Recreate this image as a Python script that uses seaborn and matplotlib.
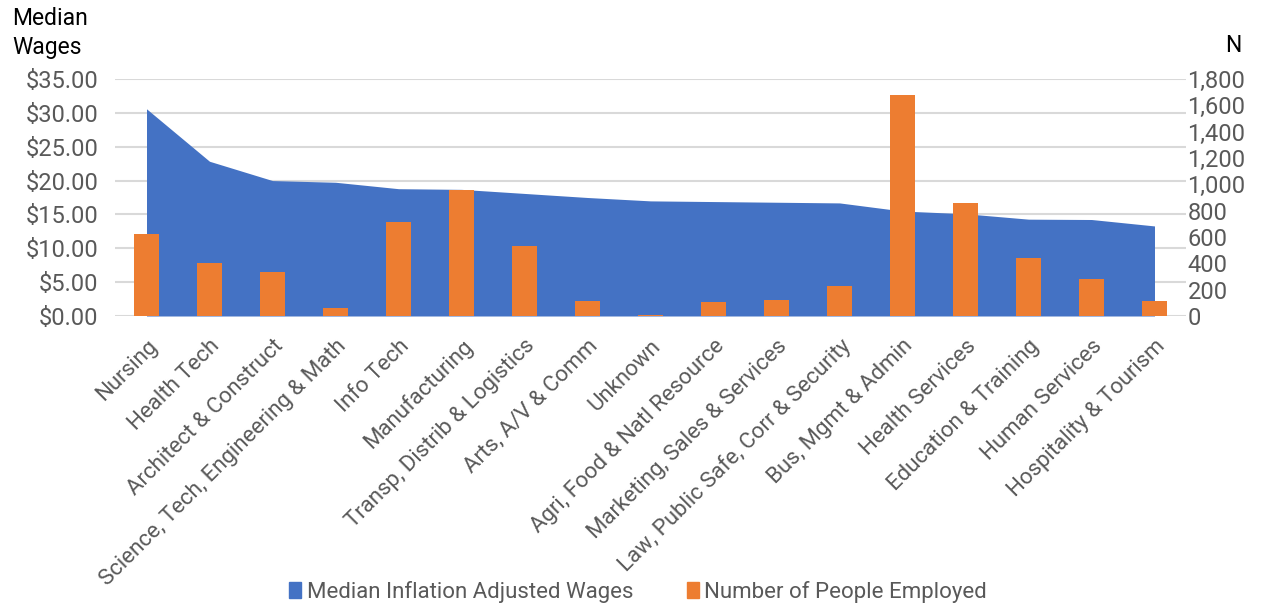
import numpy as np
import pandas as pd
import matplotlib
matplotlib.use("Agg")
import matplotlib.pyplot as plt
import seaborn as sns
from matplotlib.patches import Patch
from matplotlib.ticker import FuncFormatter

categories = ["Nursing", "Health Tech", "Architect & Construct",
              "Science, Tech, Engineering & Math", "Info Tech", "Manufacturing",
              "Transp, Distrib & Logistics", "Arts, A/V & Comm", "Unknown",
              "Agri, Food & Natl Resource", "Marketing, Sales & Services",
              "Law, Public Safe, Corr & Security", "Bus, Mgmt & Admin",
              "Health Services", "Education & Training", "Human Services",
              "Hospitality & Tourism"]
median_wages = [30.6, 22.85, 20.0, 19.75, 18.8, 18.7, 18.1, 17.5, 17.0,
                16.9, 16.8, 16.7, 15.5, 15.1, 14.3, 14.25, 13.3]
people_employed = [620, 405, 335, 57, 715, 955, 533, 115, 6,
                   110, 120, 230, 1680, 855, 440, 282, 114]
left_ticks = [0, 5, 10, 15, 20, 25, 30, 35]
right_ticks = [0, 200, 400, 600, 800, 1000, 1200, 1400, 1600, 1800]

BLUE = "#4472C4"
ORANGE = "#ED7D31"
GRAY = "#595959"

sns.set_style("white")
plt.rcParams["font.family"] = ["Roboto", "DejaVu Sans"]

df = pd.DataFrame({"category": categories, "wages": median_wages,
                   "employed": people_employed})

fig = plt.figure(figsize=(12.78, 6.05), dpi=100)
ax1 = fig.add_axes([115 / 1278, 1 - 316 / 605, (1186 - 115) / 1278, (316 - 79) / 605])
ax2 = ax1.twinx()

x = np.arange(len(categories))
ax1.fill_between(x, df["wages"], 0, color=BLUE, linewidth=0, zorder=2)
ax1.set_ylim(0, 35)
ax1.set_yticks(left_ticks)
ax1.yaxis.set_major_formatter(FuncFormatter(lambda v, p: f"${v:.2f}"))
ax1.grid(axis="y", color="#D9D9D9", linewidth=1.5, zorder=0)
ax1.set_axisbelow(True)

sns.barplot(data=df, x="category", y="employed", color=ORANGE, width=0.4,
            saturation=1, linewidth=0, edgecolor=ORANGE, ax=ax2, zorder=3)
ax2.set_ylim(0, 1800)
ax2.set_yticks(right_ticks)
ax2.yaxis.set_major_formatter(FuncFormatter(lambda v, p: f"{int(v):,}"))
ax2.set_xlabel("")
ax2.set_ylabel("")
ax1.set_xlim(-0.5, len(categories) - 0.5)

ax1.set_xticks(x)
ax1.set_xticklabels(categories, rotation=45, ha="right", rotation_mode="anchor",
                    fontsize=16, color=GRAY)
ax1.tick_params(axis="x", length=0, pad=14)
ax1.tick_params(axis="y", length=0, labelsize=17, labelcolor=GRAY, pad=12)
ax2.tick_params(axis="y", length=0, labelsize=17, labelcolor=GRAY, pad=1)
for ax in (ax1, ax2):
    for s in ax.spines.values():
        s.set_visible(False)

fig.text(12 / 1278, 1 - 33 / 605, "Median\nWages", fontsize=16.5, color="black",
         ha="left", va="center", linespacing=1.3)
fig.text(1233 / 1278, 1 - 45 / 605, "N", fontsize=16.5, color="black",
         ha="center", va="center")

handles = [Patch(color=BLUE, label="Median Inflation Adjusted Wages"),
           Patch(color=ORANGE, label="Number of People Employed")]
fig.legend(handles=handles, loc="center", bbox_to_anchor=(638 / 1278, 1 - 592 / 605),
           ncol=2, frameon=False, fontsize=16, handlelength=0.55, handleheight=0.7,
           handletextpad=0.25, columnspacing=2.4, labelcolor=GRAY,
           borderpad=0, borderaxespad=0)

fig.savefig("out.png", dpi=100)
